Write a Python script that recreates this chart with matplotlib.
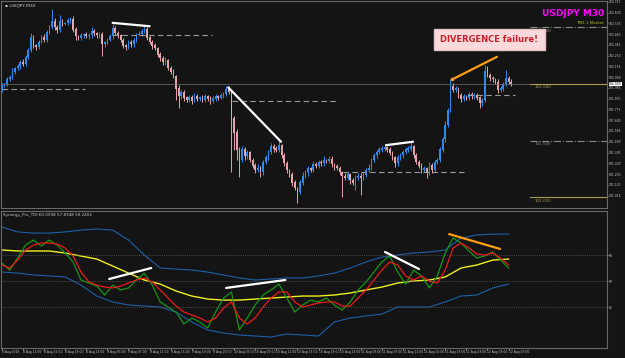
import numpy as np
import matplotlib.pyplot as plt

# USDJPY M30, 8-12 Aug 2016, price
open0 = 101.96
closes = [101.99, 102.00, 102.04, 102.06, 102.11, 102.14, 102.16, 102.19, 102.18, 102.24,
          102.30, 102.41, 102.34, 102.33, 102.37, 102.41, 102.39, 102.46, 102.50, 102.55,
          102.50, 102.48, 102.55, 102.53, 102.54, 102.56, 102.57, 102.48, 102.42, 102.41,
          102.43, 102.44, 102.42, 102.43, 102.47, 102.45, 102.43, 102.44, 102.35, 102.37,
          102.39, 102.42, 102.49, 102.45, 102.43, 102.39, 102.34, 102.33, 102.37, 102.35,
          102.39, 102.43, 102.44, 102.47, 102.48, 102.41, 102.37, 102.34, 102.32, 102.26,
          102.23, 102.19, 102.21, 102.14, 102.11, 102.07, 101.96, 101.89, 101.93, 101.88,
          101.86, 101.88, 101.85, 101.89, 101.87, 101.88, 101.86, 101.89, 101.87, 101.85,
          101.87, 101.89, 101.88, 101.90, 101.91, 101.95, 101.93, 101.70, 101.57, 101.42,
          101.33, 101.42, 101.36, 101.40, 101.33, 101.28, 101.24, 101.26, 101.22, 101.31,
          101.35, 101.40, 101.45, 101.43, 101.42, 101.46, 101.37, 101.30, 101.24, 101.20,
          101.13, 101.08, 101.05, 101.13, 101.19, 101.22, 101.26, 101.24, 101.29, 101.28,
          101.31, 101.30, 101.33, 101.32, 101.34, 101.29, 101.27, 101.26, 101.22, 101.19,
          101.17, 101.20, 101.15, 101.13, 101.17, 101.19, 101.17, 101.20, 101.24, 101.26,
          101.33, 101.37, 101.40, 101.42, 101.43, 101.44, 101.42, 101.39, 101.35, 101.30,
          101.35, 101.37, 101.40, 101.42, 101.43, 101.45, 101.37, 101.31, 101.28, 101.24,
          101.26, 101.22, 101.28, 101.24, 101.31, 101.33, 101.42, 101.51, 101.64, 101.77,
          101.98, 101.95, 101.96, 101.90, 101.87, 101.89, 101.88, 101.91, 101.89, 101.90,
          101.88, 101.83, 101.86, 102.11, 102.08, 102.05, 102.04, 102.02, 101.95, 101.96,
          102.00, 102.05, 102.02, 102.00]
# wick lengths in pips above / below the body
wick_up = [2, 1, 2, 2, 3, 1, 2, 2, 3, 2,
           2, 4, 2, 1, 2, 2, 3, 2, 2, 11,
           3, 2, 6, 2, 1, 2, 2, 3, 2, 1,
           2, 1, 2, 2, 3, 2, 1, 2, 2, 1,
           2, 2, 4, 2, 2, 1, 2, 1, 2, 2,
           2, 2, 3, 2, 4, 2, 1, 2, 2, 1,
           2, 2, 3, 1, 2, 2, 1, 3, 2, 2,
           1, 2, 2, 3, 2, 1, 2, 2, 1, 2,
           2, 2, 1, 2, 2, 3, 3, 1, 2, 3,
           2, 3, 2, 2, 1, 2, 2, 3, 2, 2,
           2, 2, 3, 2, 2, 4, 1, 2, 2, 1,
           2, 2, 1, 2, 3, 2, 2, 1, 3, 2,
           2, 2, 3, 1, 2, 2, 1, 2, 2, 1,
           2, 2, 1, 2, 3, 2, 2, 2, 2, 3,
           2, 2, 2, 2, 2, 3, 1, 2, 2, 1,
           2, 2, 2, 2, 2, 4, 1, 2, 2, 2,
           2, 1, 3, 2, 2, 2, 2, 2, 3, 2,
           6, 3, 2, 1, 2, 2, 1, 2, 2, 2,
           2, 1, 2, 6, 5, 2, 2, 1, 2, 2,
           2, 7, 2, 2]
wick_dn = [3, 2, 2, 1, 2, 2, 2, 3, 2, 2,
           2, 2, 2, 3, 2, 1, 2, 2, 2, 1,
           2, 3, 2, 2, 1, 2, 2, 2, 3, 2,
           2, 2, 1, 2, 2, 3, 2, 2, 10, 2,
           2, 1, 2, 2, 2, 2, 2, 3, 2, 2,
           2, 2, 1, 2, 2, 2, 2, 3, 2, 2,
           3, 2, 2, 2, 2, 2, 10, 10, 2, 3,
           2, 2, 3, 1, 2, 2, 2, 2, 2, 3,
           2, 2, 2, 1, 2, 2, 2, 48, 15, 9,
           15, 2, 3, 2, 2, 2, 3, 2, 4, 2,
           2, 2, 2, 3, 2, 2, 2, 2, 3, 2,
           3, 2, 10, 2, 2, 2, 3, 2, 2, 2,
           2, 2, 2, 2, 2, 2, 3, 2, 2, 19,
           2, 2, 3, 2, 7, 2, 15, 2, 2, 2,
           2, 2, 2, 2, 2, 2, 2, 2, 2, 3,
           2, 2, 2, 2, 2, 2, 2, 2, 2, 3,
           2, 5, 2, 3, 2, 2, 2, 2, 2, 2,
           2, 2, 2, 2, 3, 2, 2, 2, 2, 2,
           2, 4, 2, 2, 2, 2, 2, 2, 3, 2,
           2, 2, 2, 2]

# TDI lines, green/red read every 3 bars, yellow and bands every 6 bars
tdi_green = [62.5, 57.6, 65.9, 74.9, 78.4, 74.2, 78.4, 74.9, 69.4, 63.2,
             50.7, 48.6, 46.5, 40.3, 47.2, 43.8, 45.2, 50.7, 55.5, 47.2,
             35.5, 32.0, 28.5, 20.2, 24.4, 21.6, 17.5, 28.5, 38.2, 42.4,
             16.1, 24.4, 33.4, 40.3, 43.8, 47.9, 38.2, 28.5, 33.4, 36.8,
             35.5, 38.2, 33.4, 29.9, 35.5, 43.8, 49.3, 56.2, 63.2, 67.3,
             56.2, 47.9, 57.6, 53.5, 45.2, 53.5, 69.4, 79.8, 76.3, 70.8,
             65.9, 67.3, 70.1, 64.5, 59.0]
tdi_red = [61.1, 59.0, 64.5, 71.5, 74.9, 76.3, 76.3, 75.6, 72.9, 67.3,
           56.2, 49.3, 47.2, 45.8, 45.2, 46.5, 48.6, 50.7, 52.1, 49.3,
           43.8, 38.2, 32.7, 28.5, 26.5, 24.4, 21.6, 24.4, 31.3, 35.5,
           24.4, 20.2, 24.4, 32.0, 38.2, 42.4, 42.4, 35.5, 32.0, 33.4,
           34.8, 35.5, 35.5, 32.7, 32.7, 38.2, 43.8, 50.7, 57.6, 63.2,
           61.1, 53.5, 50.7, 53.5, 50.0, 48.6, 57.6, 72.9, 76.3, 72.9,
           68.7, 68.0, 69.4, 65.9, 61.1]
tdi_yellow = [71.5, 70.8, 70.8, 70.8, 69.4, 67.3, 65.2, 60.4, 55.5, 50.7,
              47.9, 43.1, 39.6, 37.5, 36.8, 36.8, 37.5, 38.2, 38.9, 39.6,
              39.6, 40.3, 41.7, 43.8, 45.8, 48.6, 50.0, 50.7, 52.8, 59.0,
              61.1, 64.5, 65.2]
tdi_upper = [87.4, 84.0, 83.2, 83.2, 84.0, 85.3, 86.0, 85.3, 78.4, 68.0,
             59.0, 58.3, 57.6, 56.2, 54.2, 52.1, 50.7, 51.4, 52.1, 52.1,
             53.5, 55.5, 59.0, 63.2, 66.6, 68.0, 69.4, 70.1, 71.5, 79.8,
             81.9, 82.5, 82.5]
tdi_lower = [56.2, 55.5, 54.2, 53.5, 52.8, 47.2, 39.6, 35.5, 33.4, 32.7,
             32.0, 28.5, 21.6, 16.1, 14.0, 12.6, 11.9, 11.2, 13.3, 12.6,
             11.9, 21.6, 24.4, 25.8, 27.1, 32.0, 32.0, 32.0, 35.5, 39.6,
             40.3, 45.2, 47.9]
tdi_levels = [68, 50, 32]

time_labels = ['8 Aug 2016', '8 Aug 11:00', '8 Aug 15:00', '8 Aug 19:00', '8 Aug 23:00',
               '9 Aug 03:00', '9 Aug 07:00', '9 Aug 11:00', '9 Aug 15:00', '9 Aug 19:00',
               '9 Aug 23:00', '10 Aug 03:00', '10 Aug 07:00', '10 Aug 11:00', '10 Aug 15:00',
               '10 Aug 19:00', '10 Aug 23:00', '11 Aug 03:00', '11 Aug 07:00', '11 Aug 11:00',
               '11 Aug 15:00', '11 Aug 19:00', '11 Aug 23:00', '12 Aug 03:00', '12 Aug 07:00']
price_ticks = [102.725, 102.630, 102.535, 102.440, 102.345, 102.250, 102.155, 102.060,
               101.965, 101.870, 101.775, 101.680, 101.585, 101.490, 101.395, 101.300,
               101.205, 101.110, 101.015]
levels = [102.5, 102.0, 101.5, 101.0]
level_colors = ['#8a8a8a', '#a89a50', '#8a8a8a', '#a89a50']
level_styles = ['-.', '-', '-.', '-']

BG = '#141414'
BULL = '#2b8cf0'
BEAR = '#e6a4ac'
TXT = '#c8c8c8'
SMALL = ['DejaVu Sans Condensed', 'Liberation Sans Narrow', 'DejaVu Sans']

fig = plt.figure(figsize=(6.25, 3.58), dpi=100, facecolor=BG)
ax = fig.add_axes([1/625, 1 - 208/358, 606/625, 207/358], facecolor=BG)
ax2 = fig.add_axes([1/625, 10/358, 606/625, 137/358], facecolor=BG)

n = len(closes)
x = np.arange(n)
opens = np.array([open0] + closes[:-1])
c = np.array(closes)
highs = np.maximum(opens, c) + np.array(wick_up) * 0.01
lows = np.minimum(opens, c) - np.array(wick_dn) * 0.01
cols = [BULL if c[i] > opens[i] else (BEAR if c[i] < opens[i] else 'white') for i in range(n)]

ax.vlines(x, lows, highs, colors=cols, linewidth=0.7)
ax.bar(x, np.abs(c - opens) + 0.002, bottom=np.minimum(opens, c), width=0.6, color=cols, linewidth=0)

# bid line
ax.axhline(closes[-1], color='#707070', linewidth=0.5)

# horizontal levels on the right with labels
for lv, lc, ls in zip(levels, level_colors, level_styles):
    ax.plot([200, 231], [lv, lv], color=lc, linestyle=ls, linewidth=0.8)
    ax.text(202, lv - 0.012, '%.3f' % lv, color=lc, fontsize=3.0, va='top', family=SMALL)

# dashed support / resistance segments
segs = [([0, 31.6], 101.96), ([42, 79.7], 102.43), ([87.3, 127.4], 101.85),
        ([129.3, 175.5], 101.22), ([176.7, 194.5], 101.90)]
for xs, lv in segs:
    ax.plot(xs, [lv, lv], color='#9a9a9a', linestyle=(0, (5, 3)), linewidth=0.8)

# trend lines on price
ax.plot([42, 56], [102.54, 102.51], color='white', linewidth=1.6, solid_capstyle='round')
ax.plot([85.8, 105.8], [101.97, 101.49], color='white', linewidth=1.6, solid_capstyle='round')
ax.plot([145.6, 155.8], [101.46, 101.49], color='white', linewidth=1.6, solid_capstyle='round')
ax.plot([170.6, 187.6], [102.04, 102.24], color='#ff9f10', linewidth=1.6, solid_capstyle='round')
ax.plot([170.6], [102.04], 's', color='#ff9f10', markersize=2)

ax.set_xlim(-0.3, 229.3)
ax.set_ylim(100.905, 102.733)
ax.yaxis.tick_right()
ax.set_yticks(price_ticks)
ax.set_yticklabels(['%.3f' % p for p in price_ticks], family=SMALL)
ax.tick_params(axis='y', colors=TXT, labelsize=2.2, length=1.0, pad=0.4, width=0.5)
ax.set_xticks([])
for s in ax.spines.values():
    s.set_color('#6a6a6a')
    s.set_linewidth(0.8)

# current price box
ax.text(1.003, (closes[-1] - 100.905) / (102.733 - 100.905), '%.3f' % closes[-1],
        transform=ax.transAxes, fontsize=2.2, color='black', va='center', ha='left',
        family=SMALL, bbox=dict(boxstyle='square,pad=0.1', fc='white', ec='none'))

ax.text(0.006, 0.985, '\u25aa USDJPY,M30', transform=ax.transAxes, fontsize=3.2,
        color=TXT, va='top', family=SMALL)
ax.text(0.995, 0.962, 'USDJPY M30', transform=ax.transAxes, fontsize=6.5,
        color='#ff00ff', fontweight='bold', va='top', ha='right')
ax.text(0.995, 0.905, 'TMS 1 Market', transform=ax.transAxes, fontsize=3.0,
        color='#b5b530', va='top', ha='right', family=SMALL)
ax.text(0.806, 0.814, 'DIVERGENCE failure!', transform=ax.transAxes, fontsize=6,
        color='#c8202a', fontweight='bold', va='center', ha='center',
        bbox=dict(boxstyle='square,pad=0.75', fc='#fcdadc', ec='#e8c0c4'))

# TDI window
xg = np.arange(len(tdi_green)) * 3
xy = np.arange(len(tdi_yellow)) * 6
ax2.plot(xy, tdi_upper, color='#1f5fa8', linewidth=0.8)
ax2.plot(xy, tdi_lower, color='#1f5fa8', linewidth=0.8)
ax2.plot(xy, tdi_yellow, color='#f0f020', linewidth=1.0)
ax2.plot(xg, tdi_green, color='#149614', linewidth=0.9)
ax2.plot(xg, tdi_red, color='#f01818', linewidth=0.9)
for lv in tdi_levels:
    ax2.axhline(lv, color='#5a5a5a', linestyle=(0, (1, 1.5)), linewidth=0.6)

ax2.plot([40.7, 56.6], [51.4, 59.0], color='white', linewidth=1.6, solid_capstyle='round')
ax2.plot([85, 107.4], [45.2, 50.7], color='white', linewidth=1.6, solid_capstyle='round')
ax2.plot([145.2, 158.1], [70.1, 58.3], color='white', linewidth=1.6, solid_capstyle='round')
ax2.plot([169.5, 188.8], [82.5, 72.2], color='#ff9f10', linewidth=1.6, solid_capstyle='round')

ax2.set_xlim(-0.3, 229.3)
ax2.set_ylim(3.6, 98.5)
ax2.yaxis.tick_right()
ax2.set_yticks(tdi_levels)
ax2.set_yticklabels([str(v) for v in tdi_levels], family=SMALL)
ax2.tick_params(axis='y', colors=TXT, labelsize=2.2, length=1.0, pad=0.4, width=0.5)
ax2.set_xticks(np.arange(len(time_labels)) * 8)
ax2.set_xticklabels(time_labels, ha='left', family=SMALL)
ax2.tick_params(axis='x', colors=TXT, labelsize=2.2, length=1.2, pad=0.5, width=0.5)
for s in ax2.spines.values():
    s.set_color('#6a6a6a')
    s.set_linewidth(0.8)
ax2.text(0.004, 0.985, 'Synergy_Pro_TDI 60.0598 57.8348 59.2402', transform=ax2.transAxes,
         fontsize=3.0, color=TXT, va='top', family=SMALL)

fig.savefig('out.png', dpi=100, facecolor=BG)
